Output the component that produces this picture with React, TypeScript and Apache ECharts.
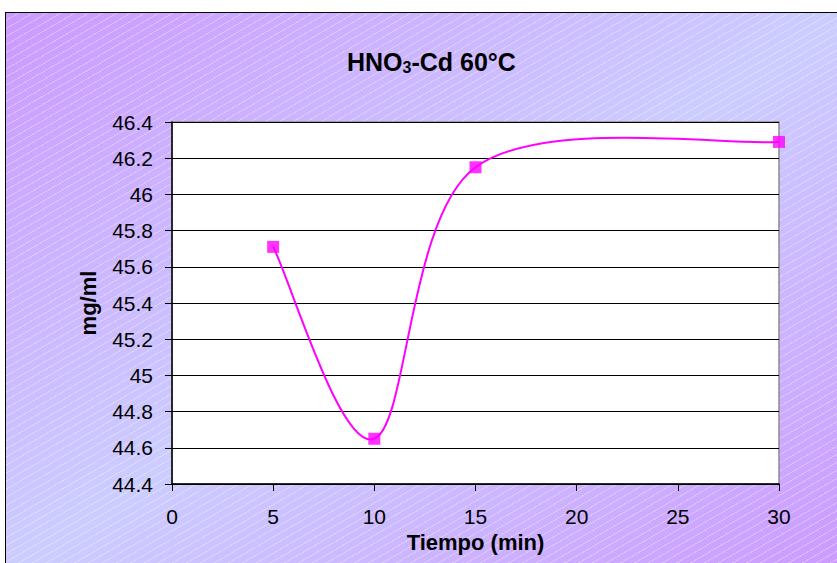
import React, { useEffect, useRef } from "react";
import * as echarts from "echarts";

// Tiempo (min) vs concentración (mg/ml)
const tiempo = [5, 10, 15, 30];
const concentracion = [45.71, 44.65, 46.15, 46.29];
const xTicks = { min: 0, max: 30, interval: 5 };
const yTicks = { min: 44.4, max: 46.4, interval: 0.2 };

const LINE_COLOR = "#ff00ff";

export default function App() {
  const ref = useRef<HTMLDivElement>(null);

  useEffect(() => {
    if (!ref.current) return;
    const chart = echarts.init(ref.current, undefined, { renderer: "svg" });
    const font = "Arial, 'Liberation Sans', sans-serif";
    const points = tiempo.map((t, i) => [t, concentracion[i]]);

    // Smoothed line: cubic Bezier segments with Catmull-Rom style tangents (1/6 tension),
    // computed in pixel space from the axis coordinates.
    const renderSegment = (params: any, api: any) => {
      const i = params.dataIndex;
      const n = points.length;
      if (i >= n - 1) return null;
      const px = points.map((p) => api.coord(p));
      const p0 = px[Math.max(i - 1, 0)];
      const p1 = px[i];
      const p2 = px[i + 1];
      const p3 = px[Math.min(i + 2, n - 1)];
      const c1 = [p1[0] + (p2[0] - p0[0]) / 6, p1[1] + (p2[1] - p0[1]) / 6];
      const c2 = [p2[0] - (p3[0] - p1[0]) / 6, p2[1] - (p3[1] - p1[1]) / 6];
      return {
        type: "bezierCurve",
        shape: {
          x1: p1[0], y1: p1[1],
          cpx1: c1[0], cpy1: c1[1],
          cpx2: c2[0], cpy2: c2[1],
          x2: p2[0], y2: p2[1],
        },
        style: { stroke: LINE_COLOR, lineWidth: 2, fill: "none" },
      };
    };

    chart.setOption({
      animation: false,
      backgroundColor: "transparent",
      title: {
        text: "{a|HNO}{s|3}{a|-Cd 60°C}",
        left: 342,
        top: 44,
        textStyle: {
          rich: {
            a: { fontFamily: font, fontWeight: "bold", fontSize: 25, color: "#000" },
            s: { fontFamily: font, fontWeight: "bold", fontSize: 16, color: "#000", padding: [10, 0, 0, 0] },
          },
        },
      },
      grid: {
        left: 172,
        right: 58,
        top: 122,
        bottom: 79,
        show: true,
        backgroundColor: "#ffffff",
        borderColor: "#8c8c8c",
        borderWidth: 1.5,
      },
      xAxis: {
        type: "value",
        min: xTicks.min,
        max: xTicks.max,
        interval: xTicks.interval,
        name: "Tiempo (min)",
        nameLocation: "middle",
        nameGap: 45,
        nameTextStyle: { fontFamily: font, fontWeight: "bold", fontSize: 22, color: "#000" },
        axisLine: { lineStyle: { color: "#000", width: 1.5 } },
        axisTick: { show: true, length: 7, lineStyle: { color: "#000" } },
        axisLabel: { margin: 22, fontFamily: font, fontSize: 21, color: "#000" },
        splitLine: { show: false },
      },
      yAxis: {
        type: "value",
        min: yTicks.min,
        max: yTicks.max,
        interval: yTicks.interval,
        name: "mg/ml",
        nameLocation: "middle",
        nameGap: 73,
        nameRotate: 90,
        nameTextStyle: { fontFamily: font, fontWeight: "bold", fontSize: 22, color: "#000" },
        axisLine: { show: true, lineStyle: { color: "#000", width: 1.5 } },
        axisTick: { show: true, length: 7, lineStyle: { color: "#000" } },
        axisLabel: {
          margin: 19,
          fontFamily: font,
          fontSize: 21,
          color: "#000",
          formatter: (v: number) => String(parseFloat(v.toFixed(1))),
        },
        splitLine: { show: true, lineStyle: { color: "#000", width: 1 } },
      },
      series: [
        {
          type: "custom",
          data: points,
          encode: { x: 0, y: 1 },
          renderItem: renderSegment,
          clip: false,
          silent: true,
        },
        {
          type: "scatter",
          data: points,
          symbol: "rect",
          symbolSize: 12,
          itemStyle: { color: LINE_COLOR },
          z: 3,
        },
      ],
    });
    return () => chart.dispose();
  }, []);

  return (
    <div style={{ position: "fixed", left: 0, top: 0, width: 837, height: 563, background: "#fff", overflow: "hidden" }}>
      <div
        style={{
          position: "absolute",
          left: 5,
          top: 12,
          width: 840,
          height: 560,
          border: "1.5px solid #000",
          backgroundImage:
            "repeating-linear-gradient(150deg, rgba(255,255,255,0) 0px, rgba(255,255,255,0) 6px, rgba(255,255,255,0.3) 6px, rgba(255,255,255,0.3) 7px), linear-gradient(to bottom right, #cc99ff 0%, #cccdff 50%, #cc99ff 100%)",
        }}
      />
      <div ref={ref} style={{ position: "absolute", left: 0, top: 0, width: 837, height: 563 }} />
    </div>
  );
}
